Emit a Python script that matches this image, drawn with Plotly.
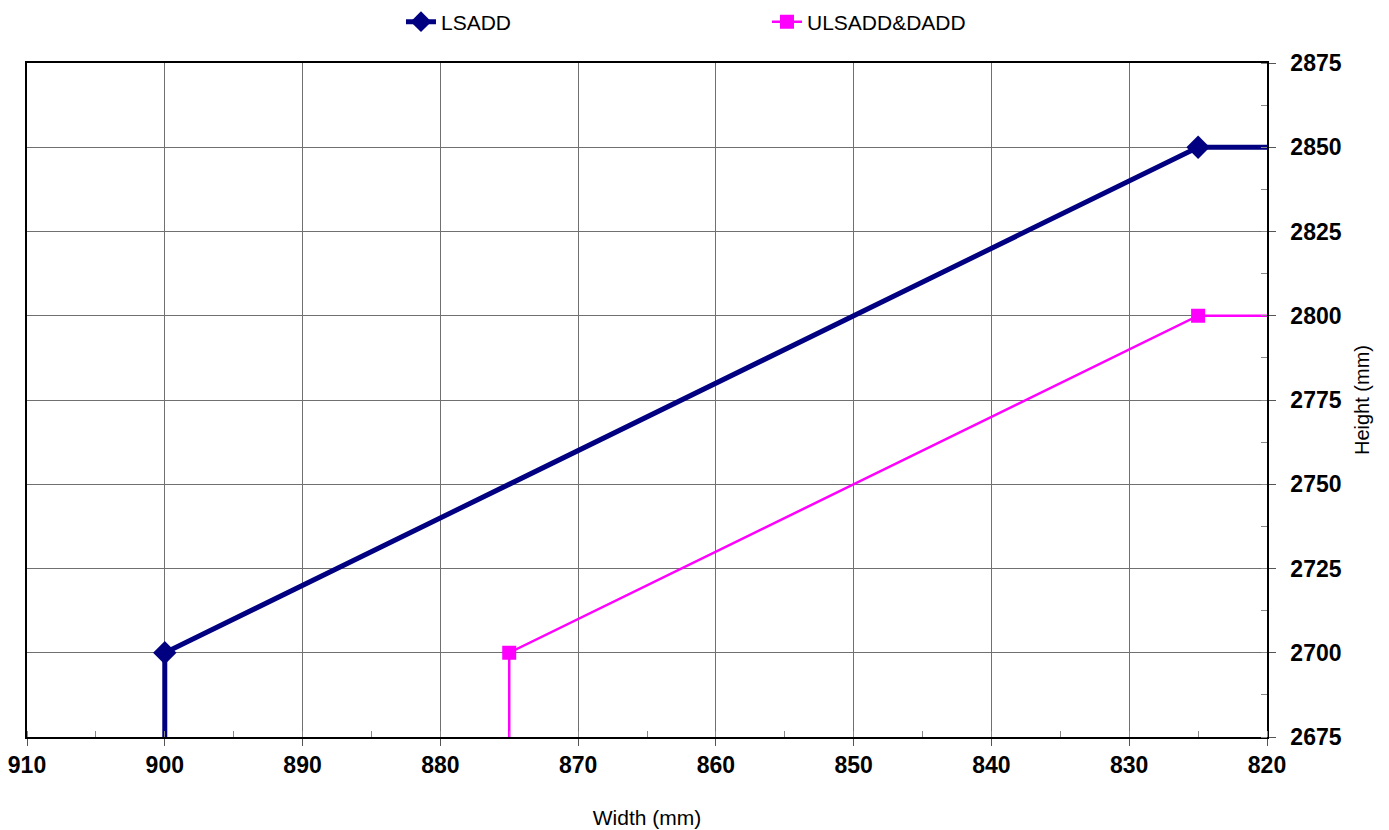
import plotly.graph_objects as go

# Data
lsadd_x = [900, 900, 825, 800]
lsadd_y = [2600, 2700, 2850, 2850]
ul_x = [875, 875, 825, 800]
ul_y = [2600, 2700, 2800, 2800]

x_ticks = [910, 900, 890, 880, 870, 860, 850, 840, 830, 820]
y_ticks = [2675, 2700, 2725, 2750, 2775, 2800, 2825, 2850, 2875]

fig = go.Figure()
fig.add_trace(go.Scatter(
    x=lsadd_x, y=lsadd_y, name="LSADD", mode="lines+markers",
    line=dict(color="#000080", width=5),
    marker=dict(symbol="diamond", size=18, color="#000080"),
))
fig.add_trace(go.Scatter(
    x=ul_x, y=ul_y, name="ULSADD&DADD", mode="lines+markers",
    line=dict(color="#FF00FF", width=2.5),
    marker=dict(symbol="square", size=14, color="#FF00FF"),
))

font_family = "Liberation Sans, Arial, sans-serif"

fig.update_layout(
    width=1389, height=830,
    margin=dict(l=19, r=130, t=55, b=101, autoexpand=False),
    plot_bgcolor="white", paper_bgcolor="white",
    font=dict(family=font_family, color="black"),
    showlegend=True,
    legend=dict(orientation="h", x=0.3016, xanchor="left", y=1 - 14 / 830, yanchor="middle",
                yref="container", entrywidth=321, entrywidthmode="pixels",
                font=dict(size=21, family=font_family),
                bgcolor="rgba(0,0,0,0)"),
    xaxis=dict(
        range=[910, 820], tickvals=x_ticks, ticktext=[str(v) for v in x_ticks],
        automargin=False, ticklabeloverflow="allow",
        showgrid=True, gridcolor="#707070", gridwidth=1,
        showline=True, linecolor="black", linewidth=1.5, mirror=True,
        ticks="outside", ticklen=7, tickcolor="#555555",
        tickfont=dict(size=23, family=font_family, weight="bold"),
        minor=dict(dtick=5, tick0=820, ticks="inside", ticklen=6, tickcolor="#888888", showgrid=False),
        zeroline=False,
        title=dict(text="Width (mm)", font=dict(size=21), standoff=33),
    ),
    yaxis=dict(
        range=[2675, 2875], tickvals=y_ticks, side="right",
        automargin=False, ticklabeloverflow="allow",
        showgrid=True, gridcolor="#707070", gridwidth=1,
        showline=True, linecolor="black", linewidth=1.5, mirror=True,
        ticks="outside", ticklen=7, tickcolor="#555555", ticklabelstandoff=10,
        tickfont=dict(size=23, family=font_family, weight="bold"),
        minor=dict(dtick=12.5, tick0=2675, ticks="inside", ticklen=6, tickcolor="#888888", showgrid=False),
        zeroline=False,
        title=dict(text="Height (mm)", font=dict(size=20), standoff=14),
    ),
)

fig.write_html("out.html")
